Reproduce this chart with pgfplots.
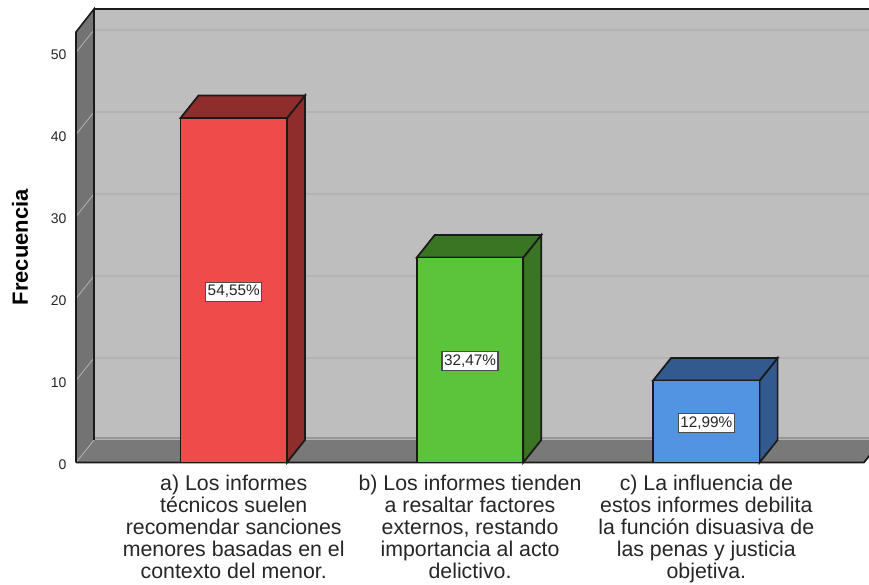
\documentclass[border=0pt]{standalone}
\usepackage{fontspec}
\setmainfont{Liberation Sans}
\usepackage{pgfplots}
\pgfplotsset{compat=1.18}
\definecolor{wallback}{HTML}{BEBEBE}
\definecolor{wallside}{HTML}{737373}
\definecolor{wallfloor}{HTML}{797979}
\definecolor{gridb}{HTML}{B3B3B3}
\definecolor{grids}{HTML}{ABABAB}
\definecolor{seam}{HTML}{979797}
\definecolor{edge}{HTML}{1A1A1A}
\definecolor{redf}{HTML}{EF4B4B}
\definecolor{redd}{HTML}{8F2C2C}
\definecolor{greenf}{HTML}{5CC43A}
\definecolor{greend}{HTML}{3A7523}
\definecolor{bluef}{HTML}{5294E2}
\definecolor{blued}{HTML}{325A8E}
\begin{document}
\begin{tikzpicture}
\path[use as bounding box] (0,0) rectangle (651.75pt,438.75pt);
\begin{axis}[
  at={(54.8pt,88.8pt)}, anchor=south west,
  x=177.225pt, y=6.15pt,
  xmin=-0.68, xmax=2.688, ymin=-0.5, ymax=55.6,
  axis line style={draw=none},
  major tick length=0pt,
  tick style={draw=none},
  /pgf/number format/assume math mode=true,
  ytick={0,10,20,30,40,50},
  yticklabel style={font=\fontsize{10.5}{12}\selectfont, text=black!85, xshift=-1.5pt, yshift=-1.8pt},
  xtick={0,1,2},
  xticklabels={
    {a) Los informes\\técnicos suelen\\recomendar sanciones\\menores basadas en el\\contexto del menor.},
    {b) Los informes tienden\\a resaltar factores\\externos, restando\\importancia al acto\\delictivo.},
    {c) La influencia de\\estos informes debilita\\la función disuasiva de\\las penas y justicia\\objetiva.}},
  xticklabel style={align=center, font=\fontsize{16}{16.5}\selectfont, text=black!85, anchor=north, yshift=-3pt},
  ylabel={Frecuencia},
  ylabel style={at={(axis description cs:-0.0666,0.477)}, anchor=center, font=\fontsize{16.5}{18}\selectfont\bfseries, rotate=0},
]
% walls
\addplot[fill=wallback, draw=none] coordinates {(-0.5914,2.75) (2.9,2.75) (2.9,55.3) (-0.5914,55.3)} \closedcycle;
\addplot[fill=wallside, draw=none] coordinates {(-0.6676,0) (-0.5914,2.75) (-0.5914,55.3) (-0.6676,52.5)} -- cycle;
\addplot[fill=wallfloor, draw=none] coordinates {(-0.6676,0) (-0.5914,2.75) (2.743,2.75) (2.667,0)} -- cycle;
\addplot[seam, line width=1.2pt] coordinates {(-0.5914,3.0) (2.9,3.0)};
% gridlines on back wall
\addplot[gridb, line width=1pt] coordinates {(-0.5914,12.75) (2.9,12.75)};
\addplot[gridb, line width=1pt] coordinates {(-0.5914,22.75) (2.9,22.75)};
\addplot[gridb, line width=1pt] coordinates {(-0.5914,32.75) (2.9,32.75)};
\addplot[gridb, line width=1pt] coordinates {(-0.5914,42.75) (2.9,42.75)};
\addplot[gridb, line width=1pt] coordinates {(-0.5914,52.75) (2.9,52.75)};
% gridlines on side wall
\addplot[grids, line width=0.7pt] coordinates {(-0.6676,0) (-0.5914,2.75)};
\addplot[grids, line width=0.7pt] coordinates {(-0.6676,10) (-0.5914,12.75)};
\addplot[grids, line width=0.7pt] coordinates {(-0.6676,20) (-0.5914,22.75)};
\addplot[grids, line width=0.7pt] coordinates {(-0.6676,30) (-0.5914,32.75)};
\addplot[grids, line width=0.7pt] coordinates {(-0.6676,40) (-0.5914,42.75)};
\addplot[grids, line width=0.7pt] coordinates {(-0.6676,50) (-0.5914,52.75)};
% frame lines
\addplot[edge, line width=1.2pt] coordinates {(-0.6676,0) (-0.6676,52.5) (-0.5914,55.3) (-0.5914,2.75)};
\addplot[edge, line width=1.2pt] coordinates {(-0.5914,55.3) (2.9,55.3)};
\addplot[edge, line width=1.3pt] coordinates {(-0.6676,0) (2.667,0) (2.743,2.75)};
% red bar
\addplot[fill=redd, draw=edge, line width=1.3pt] coordinates {(0.2254,0) (0.3016,2.75) (0.3016,44.75) (0.2254,42)} -- cycle;
\addplot[fill=redd, draw=edge, line width=1.3pt] coordinates {(-0.2254,42) (-0.1492,44.75) (0.3016,44.75) (0.2254,42)} -- cycle;
\addplot[ybar, bar width=0.4508, bar shift=0pt, fill=redf, draw=edge, line width=1.3pt] coordinates {(0,42)};
% green bar
\addplot[fill=greend, draw=edge, line width=1.3pt] coordinates {(1.2254,0) (1.3016,2.75) (1.3016,27.75) (1.2254,25)} -- cycle;
\addplot[fill=greend, draw=edge, line width=1.3pt] coordinates {(0.7746,25) (0.8508,27.75) (1.3016,27.75) (1.2254,25)} -- cycle;
\addplot[ybar, bar width=0.4508, bar shift=0pt, fill=greenf, draw=edge, line width=1.3pt] coordinates {(1,25)};
% blue bar
\addplot[fill=blued, draw=edge, line width=1.3pt] coordinates {(2.2254,0) (2.3016,2.75) (2.3016,12.75) (2.2254,10)} -- cycle;
\addplot[fill=blued, draw=edge, line width=1.3pt] coordinates {(1.7746,10) (1.8508,12.75) (2.3016,12.75) (2.2254,10)} -- cycle;
\addplot[ybar, bar width=0.4508, bar shift=0pt, fill=bluef, draw=edge, line width=1.3pt] coordinates {(2,10)};
% value labels
\tikzset{vlab/.style={fill=white, draw=black!70, line width=0.9pt, inner xsep=1.5pt, inner ysep=2.4pt, font=\fontsize{11.5}{12}\selectfont, text=black!85, yshift=-1pt}}
\node[vlab] at (axis cs:0,21) {54,55\%};
\node[vlab] at (axis cs:1,12.5) {32,47\%};
\node[vlab] at (axis cs:2,5) {12,99\%};
\end{axis}
\end{tikzpicture}
\end{document}
